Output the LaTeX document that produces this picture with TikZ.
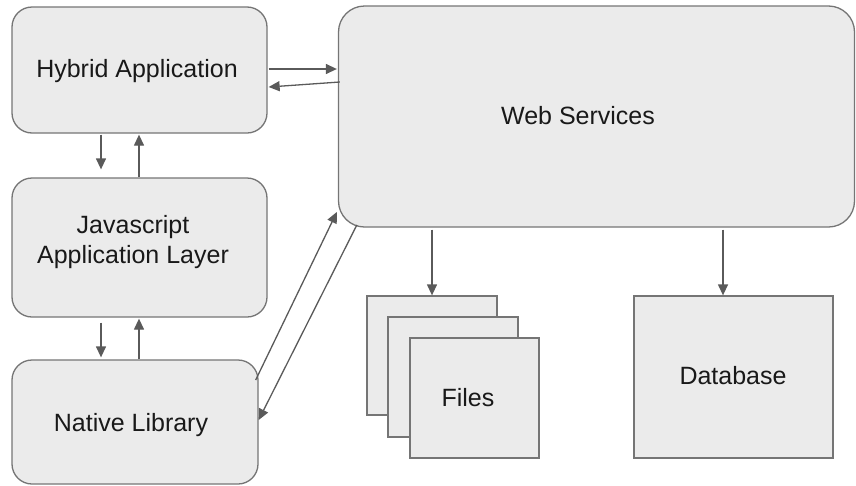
\documentclass[tikz,border=0pt]{standalone}
\usepackage{fontspec}
\setmainfont{Liberation Sans}
\usetikzlibrary{arrows.meta,calc}
\definecolor{boxfill}{HTML}{EBEBEB}
\definecolor{boxline}{HTML}{757575}
\definecolor{arrcol}{HTML}{5A5A5A}
\tikzset{
  rbox/.style={draw=boxline, fill=boxfill, line width=1.3pt, rounded corners=20pt, inner sep=0pt},
  sbox/.style={draw=boxline, fill=boxfill, line width=1.3pt, inner sep=0pt},
  arr/.style={draw=arrcol, line width=1.3pt, -{Triangle[length=11pt,width=10pt]}},
  lbl/.style={font=\fontsize{25}{30}\selectfont, text=black!90, inner sep=0pt, align=center}
}
\begin{document}
\begin{tikzpicture}[x=1pt,y=-1pt]
\useasboundingbox (0,0) rectangle (856,485);
% boxes
\node[rbox, minimum width=255pt, minimum height=126pt] (hyb) at (139.5,70) {};
\node[lbl] (hybt) at (137,71) {Hybrid Application};
\node[rbox, minimum width=255pt, minimum height=139pt] (js) at (139.5,247.5) {};
\node[lbl] (jst) at (133,242) {Javascript\\Application Layer};
\node[rbox, minimum width=246pt, minimum height=124pt] (nat) at (135,422) {};
\node[lbl] (natt) at (131,425) {Native Library};
\node[rbox, rounded corners=26pt, minimum width=516pt, minimum height=221pt] (web) at (596.5,116.5) {};
\node[lbl] (webt) at (578,116) {Web Services};
% files stack
\node[sbox, minimum width=130pt, minimum height=119pt] (f1) at (432,355.5) {};
\node[sbox, minimum width=130pt, minimum height=120pt] (f2) at (453,377) {};
\node[sbox, minimum width=129pt, minimum height=120pt] (f3) at (474.5,398) {};
\node[lbl] (filest) at (468,398) {Files};
\node[sbox, minimum width=199pt, minimum height=162pt] (db) at (733.5,377) {};
\node[lbl] (dbt) at (733,376) {Database};
% connectors
\draw[arr] ($(hyb.east)+(1,-1)$) -- ($(web.west)+(-1,-47.5)$);
\draw[arr] ($(web.west)+(2,-34.5)$) -- ($(hyb.east)+(1,17)$);
\draw[arr] ($(hyb.south)+(-38.5,1)$) -- ($(js.north)+(-38.5,-8)$);
\draw[arr] ($(js.north)+(-0.5,0)$) -- ($(hyb.south)+(-0.5,1)$);
\draw[arr] ($(js.south)+(-38.5,5)$) -- ($(nat.north)+(-34,-2)$);
\draw[arr] ($(nat.north)+(4,0)$) -- ($(js.south)+(-0.5,1)$);
\draw[arr] ($(nat.east)+(-3,-42)$) -- ($(web.west)+(-1,95.5)$);
\draw[arr] ($(web.west)+(19,108.5)$) -- ($(nat.east)+(0,-2)$);
\draw[arr] ($(web.south)+(-164.5,2)$) -- (f1.north);
\draw[arr] ($(web.south)+(126.5,2)$) -- (db.north -| {$(web.south)+(126.5,2)$});
\end{tikzpicture}
\end{document}
